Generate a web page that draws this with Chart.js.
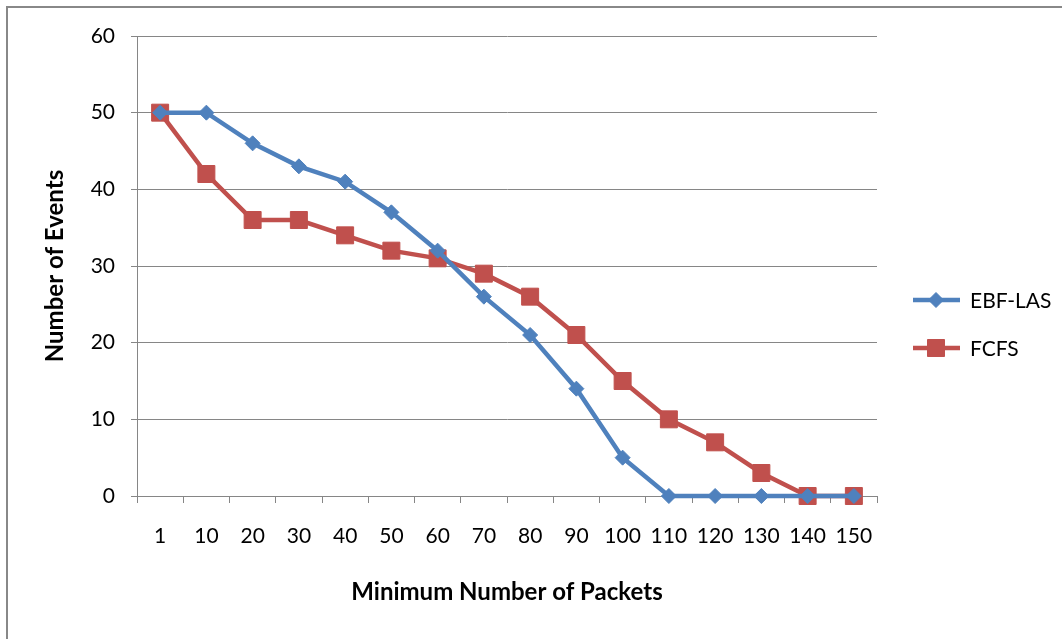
<!DOCTYPE html>
<html>
<head>
<meta charset="utf-8">
<script src="https://cdn.jsdelivr.net/npm/chart.js@4.4.1/dist/chart.umd.min.js"></script>
<style>
html,body{margin:0;padding:0;background:#fff;}
#wrap{position:relative;width:1063px;height:639px;}
</style>
</head>
<body>
<div id="wrap"><canvas id="c" width="1063" height="639"></canvas></div>
<script>
const categories = ['1','10','20','30','40','50','60','70','80','90','100','110','120','130','140','150'];
const ebfLas = [50,50,46,43,41,37,32,26,21,14,5,0,0,0,0,0];
const fcfs = [50,42,36,36,34,32,31,29,26,21,15,10,7,3,0,0];
const seriesNames = ['EBF-LAS','FCFS'];
const yTicks = [0,10,20,30,40,50,60];

const BLUE = '#4F81BD';
const RED = '#C0504D';
const GRID = '#868686';
const FONT = 'Lato, "Open Sans", "Liberation Sans", sans-serif';

const framePlugin = {
  id: 'frame',
  beforeDraw(chart) {
    const ctx = chart.ctx;
    ctx.save();
    ctx.fillStyle = '#fff';
    ctx.fillRect(0, 0, chart.width, chart.height);
    ctx.fillStyle = '#888';
    ctx.fillRect(6, 6, 1056, 2);
    ctx.fillRect(6, 6, 2, 633);
    ctx.restore();
  }
};

function drawMarker(ctx, style, r, x, y) {
  if (style === 'rect') {
    const s = Math.SQRT1_2 * r;
    ctx.rect(x - s, y - s, 2 * s, 2 * s);
  } else {
    ctx.moveTo(x, y - r);
    ctx.lineTo(x + r, y);
    ctx.lineTo(x, y + r);
    ctx.lineTo(x - r, y);
    ctx.closePath();
  }
}

const legendPlugin = {
  id: 'customLegend',
  afterDraw(chart) {
    const ctx = chart.ctx;
    const ys = [300, 348];
    ctx.save();
    chart.data.datasets.forEach((ds, i) => {
      const y = ys[i];
      ctx.strokeStyle = ds.borderColor;
      ctx.lineWidth = ds.borderWidth;
      ctx.beginPath();
      ctx.moveTo(913, y);
      ctx.lineTo(960, y);
      ctx.stroke();
      ctx.fillStyle = ds.pointBackgroundColor;
      ctx.strokeStyle = ds.pointBorderColor;
      ctx.lineWidth = 1;
      ctx.beginPath();
      drawMarker(ctx, ds.pointStyle, ds.pointRadius, 936, y);
      ctx.fill();
      ctx.stroke();
      ctx.fillStyle = '#000';
      ctx.font = '21px ' + FONT;
      ctx.textBaseline = 'middle';
      ctx.textAlign = 'left';
      ctx.fillText(ds.label, 970, y + 1);
    });
    ctx.restore();
  }
};

new Chart(document.getElementById('c'), {
  type: 'line',
  data: {
    labels: categories,
    datasets: [
      {
        label: seriesNames[0],
        data: ebfLas,
        borderColor: BLUE,
        backgroundColor: BLUE,
        pointBackgroundColor: BLUE,
        pointBorderColor: BLUE,
        borderWidth: 4.5,
        pointStyle: 'rectRot',
        pointRadius: 7.5,
        pointBorderWidth: 1,
        tension: 0,
        clip: false
      },
      {
        label: seriesNames[1],
        data: fcfs,
        borderColor: RED,
        backgroundColor: RED,
        pointBackgroundColor: RED,
        pointBorderColor: RED,
        borderWidth: 4.5,
        pointStyle: 'rect',
        pointRadius: 12,
        pointBorderWidth: 1,
        tension: 0,
        clip: false
      }
    ]
  },
  options: {
    responsive: false,
    animation: false,
    devicePixelRatio: 1,
    layout: { padding: { left: 0, top: 36, right: 186, bottom: 0 } },
    plugins: {
      legend: { display: false },
      tooltip: { enabled: false }
    },
    scales: {
      x: {
        type: 'category',
        offset: true,
        grid: {
          offset: true,
          drawOnChartArea: false,
          drawTicks: true,
          tickLength: 7,
          color: GRID,
          lineWidth: 1
        },
        border: { display: true, color: GRID, width: 1 },
        ticks: {
          color: '#000',
          font: { family: FONT, size: 21 },
          padding: 21,
          maxRotation: 0,
          autoSkip: false
        },
        title: {
          display: true,
          text: 'Minimum Number of Packets',
          color: '#000',
          font: { family: FONT, size: 24, weight: 'bold' },
          padding: { top: 32, bottom: 32 }
        },
        afterFit(scale) { scale.height = 143; }
      },
      y: {
        min: 0,
        max: 60,
        afterBuildTicks(scale) { scale.ticks = yTicks.map(v => ({ value: v })); },
        grid: {
          color: GRID,
          lineWidth: 1,
          drawTicks: true,
          tickLength: 6
        },
        border: { display: true, color: GRID, width: 1 },
        ticks: {
          color: '#000',
          font: { family: FONT, size: 21 },
          padding: 16
        },
        title: {
          display: true,
          text: 'Number of Events',
          color: '#000',
          font: { family: FONT, size: 24, weight: 'bold' },
          padding: { top: 41, bottom: 41 }
        },
        afterFit(scale) { scale.width = 137; }
      }
    }
  },
  plugins: [framePlugin, legendPlugin]
});
</script>
</body>
</html>
